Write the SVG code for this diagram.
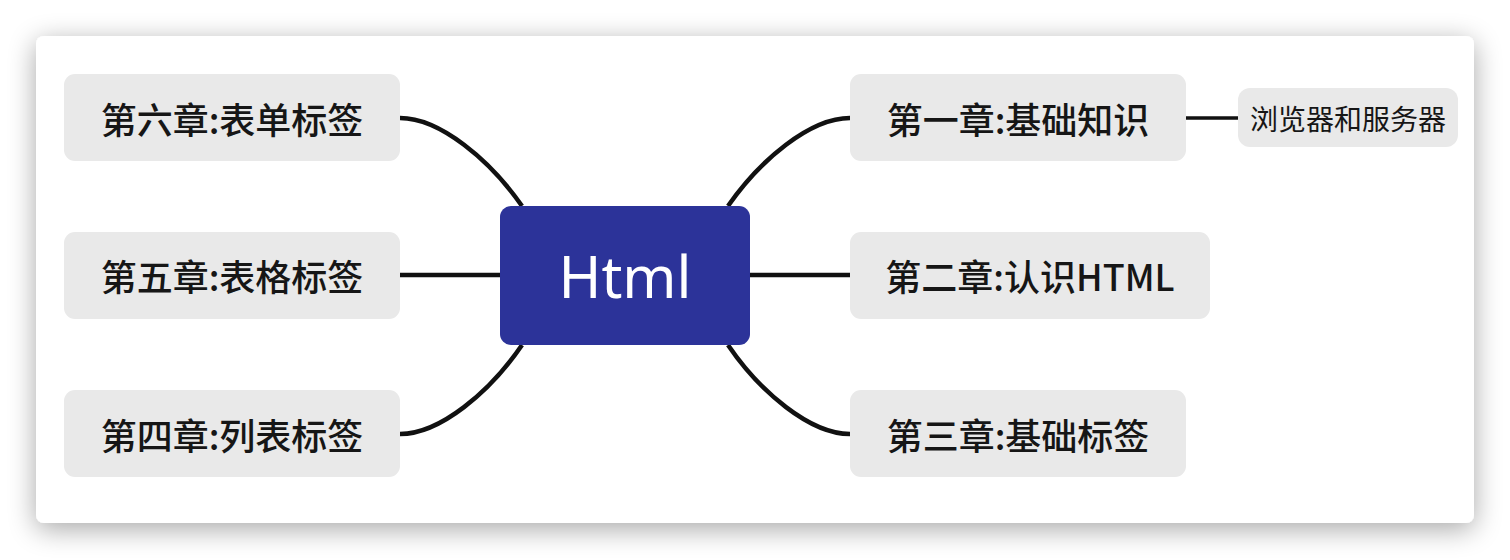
<svg xmlns="http://www.w3.org/2000/svg" width="1510" height="560" viewBox="0 0 1510 560">
<defs>
<filter id="shadow" x="-10%" y="-20%" width="120%" height="140%">
<feGaussianBlur in="SourceAlpha" stdDeviation="14"/>
<feOffset dx="0" dy="6" result="b"/>
<feComponentTransfer><feFuncA type="linear" slope="0.35"/></feComponentTransfer>
<feMerge><feMergeNode/><feMergeNode in="SourceGraphic"/></feMerge>
</filter>
</defs>
<style>
.topic rect{fill:#e9e9e9}
.topic text{font-family:"Noto Sans CJK SC","Noto Sans",sans-serif;font-size:36px;font-weight:500;fill:#161616;text-anchor:middle;dominant-baseline:central}
.sub rect{fill:#e9e9e9}
.sub text{font-family:"Noto Sans CJK SC","Noto Sans",sans-serif;font-size:28px;font-weight:400;fill:#161616;text-anchor:middle;dominant-baseline:central}
.conn{fill:none;stroke:#111;stroke-width:4.5}
</style>
<rect width="1510" height="560" fill="#ffffff"/>
<rect x="36" y="36" width="1438" height="487" rx="8" fill="#ffffff" filter="url(#shadow)"/>
<g id="connectors">
<path class="conn" d="M400,118 C440,118 490,160 522,206"/>
<path class="conn" d="M400,275 L500,275"/>
<path class="conn" d="M400,434 C440,434 490,392 522,345"/>
<path class="conn" d="M850,118 C810,118 760,160 728,206"/>
<path class="conn" d="M750,275 L850,275"/>
<path class="conn" d="M850,434 C810,434 760,392 728,345"/>
<path class="conn" d="M1186,118 L1238,118" style="stroke-width:3.5"/>
</g>
<g id="root">
<rect x="500" y="206" width="250" height="139" rx="11" fill="#2c3399"/>
<text x="625" y="275" font-family="'Noto Sans','Open Sans',sans-serif" font-size="58" fill="#ffffff" text-anchor="middle" dominant-baseline="central">Html</text>
</g>
<g id="ch6" class="topic">
<rect x="64" y="74" width="336" height="87" rx="11"/>
<text x="232" y="118">第六章:表单标签</text>
</g>
<g id="ch5" class="topic">
<rect x="64" y="232" width="336" height="87" rx="11"/>
<text x="232" y="275">第五章:表格标签</text>
</g>
<g id="ch4" class="topic">
<rect x="64" y="390" width="336" height="87" rx="11"/>
<text x="232" y="434">第四章:列表标签</text>
</g>
<g id="ch1" class="topic">
<rect x="850" y="74" width="336" height="87" rx="11"/>
<text x="1018" y="118">第一章:基础知识</text>
</g>
<g id="ch2" class="topic">
<rect x="850" y="232" width="360" height="87" rx="11"/>
<text x="1030" y="275">第二章:认识HTML</text>
</g>
<g id="ch3" class="topic">
<rect x="850" y="390" width="336" height="87" rx="11"/>
<text x="1018" y="434">第三章:基础标签</text>
</g>
<g id="ch1-sub" class="sub">
<rect x="1238" y="88" width="220" height="59" rx="12"/>
<text x="1348" y="118">浏览器和服务器</text>
</g>
</svg>
